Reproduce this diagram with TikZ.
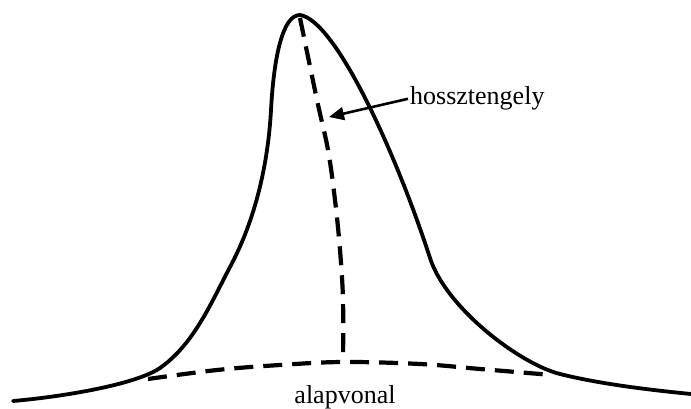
\documentclass[tikz,border=0pt]{standalone}
\usepackage{fontspec}
\setmainfont{Liberation Serif}
\usetikzlibrary{arrows.meta}
\begin{document}
\begin{tikzpicture}[x=1pt,y=-1pt,
  curveline/.style={line width=3.8pt,line join=round,line cap=round},
  dashline/.style={line width=4.2pt,dash pattern=on 19pt off 10pt},
  lbl/.style={font=\fontsize{26}{30}\selectfont,inner sep=2pt},
  arr/.style={line width=2.6pt,-{Triangle[length=15pt,width=13pt]}}]
\useasboundingbox (0,0) rectangle (691,409);
% peak curve
\draw[curveline] (13,401)
  .. controls (60,397) and (135,385) .. (160,368)
  .. controls (194,344) and (211,303) .. (230,267)
  .. controls (255.5,219.5) and (268,164) .. (271,110)
  .. controls (274,55) and (283,15) .. (300,15)
  .. controls (335,20) and (395,150) .. (430,258)
  .. controls (446,308) and (520,364) .. (560,374)
  .. controls (600,384) and (650,390) .. (691,394);
% longitudinal axis
\coordinate (top) at (300,18);
\coordinate (foot) at (343,362);
\draw[dashline] plot[smooth,tension=0.6] coordinates {
 (top) (317,100) (328,150) (335,200) (340,250) (343,300) (foot)};
% baseline
\coordinate (bl) at (148,379);
\coordinate (br) at (552,375);
\draw[dashline] plot[smooth,tension=0.6] coordinates {
 (bl) (217,370) (280,365) (foot) (420,364) (480,369) (br)};
% labels
\node[lbl,anchor=base west] (hossz) at (408,105) {hossztengely};
\node[lbl,anchor=base] (alap) at (345,403) {alapvonal};
\coordinate (tip) at (329,117);
\draw[arr] (hossz.west) -- (tip);
\end{tikzpicture}
\end{document}
